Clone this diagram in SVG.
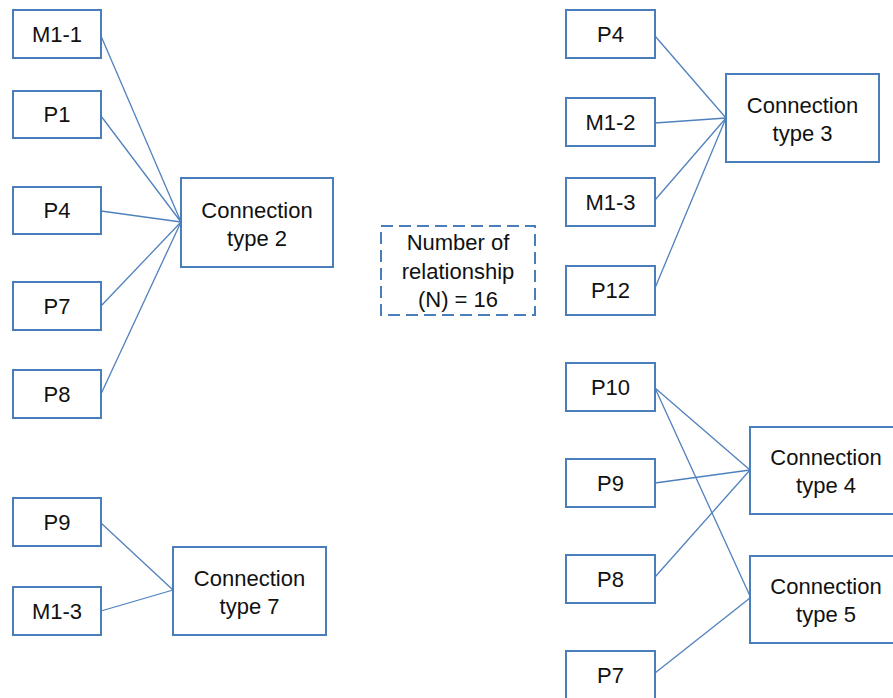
<svg xmlns="http://www.w3.org/2000/svg" width="893" height="698" viewBox="0 0 893 698">
  <style>
    .box { fill: #ffffff; stroke: #4a7ebb; stroke-width: 2; }
    .dash { fill: #ffffff; stroke: #4a7ebb; stroke-width: 2; stroke-dasharray: 12 6; }
    .link { stroke: #4f81bd; stroke-width: 1.3; fill: none; }
    text { font-family: "Liberation Sans", Arial, sans-serif; font-size: 22px; fill: #111111; text-anchor: middle; }
  </style>
  <rect width="893" height="698" fill="#ffffff"/>

  <!-- connectors -->
  <g id="connectors">
    <line class="link" x1="101" y1="36" x2="181" y2="222"/>
    <line class="link" x1="101" y1="116" x2="181" y2="222"/>
    <line class="link" x1="101" y1="211" x2="181" y2="222"/>
    <line class="link" x1="101" y1="306" x2="181" y2="222"/>
    <line class="link" x1="101" y1="394" x2="181" y2="222"/>

    <line class="link" x1="101" y1="523" x2="173" y2="590"/>
    <line class="link" x1="101" y1="611" x2="173" y2="590"/>

    <line class="link" x1="655" y1="36" x2="726" y2="118"/>
    <line class="link" x1="655" y1="123" x2="726" y2="118"/>
    <line class="link" x1="655" y1="200" x2="726" y2="118"/>
    <line class="link" x1="655" y1="288" x2="726" y2="118"/>

    <line class="link" x1="655" y1="388" x2="750" y2="470"/>
    <line class="link" x1="655" y1="483" x2="750" y2="470"/>
    <line class="link" x1="655" y1="577" x2="750" y2="470"/>
    <line class="link" x1="655" y1="388" x2="750" y2="596"/>
    <line class="link" x1="655" y1="673" x2="750" y2="598"/>
  </g>

  <!-- left column -->
  <g id="l-m1-1"><rect class="box" x="13" y="10" width="88" height="48"/><text x="57" y="42">M1-1</text></g>
  <g id="l-p1"><rect class="box" x="13" y="91" width="88" height="47"/><text x="57" y="122">P1</text></g>
  <g id="l-p4"><rect class="box" x="13" y="187" width="88" height="47"/><text x="57" y="218">P4</text></g>
  <g id="l-p7"><rect class="box" x="13" y="282" width="88" height="48"/><text x="57" y="314">P7</text></g>
  <g id="l-p8"><rect class="box" x="13" y="370" width="88" height="48"/><text x="57" y="402">P8</text></g>
  <g id="l-p9"><rect class="box" x="13" y="498" width="88" height="48"/><text x="57" y="530">P9</text></g>
  <g id="l-m1-3"><rect class="box" x="13" y="587" width="88" height="48"/><text x="57" y="619">M1-3</text></g>

  <g id="ct2"><rect class="box" x="181" y="178" width="152" height="89"/><text x="257" y="218">Connection</text><text x="257" y="246">type 2</text></g>
  <g id="ct7"><rect class="box" x="173" y="547" width="153" height="88"/><text x="249.5" y="586">Connection</text><text x="249.5" y="614">type 7</text></g>

  <!-- centre note -->
  <g id="count"><rect class="dash" x="381" y="226" width="154" height="89"/>
    <text x="458" y="250">Number of</text><text x="458" y="279">relationship</text><text x="458" y="307">(N) = 16</text></g>

  <!-- right column -->
  <g id="r-p4"><rect class="box" x="566" y="10" width="89" height="48"/><text x="610.5" y="42">P4</text></g>
  <g id="r-m1-2"><rect class="box" x="566" y="98" width="89" height="48"/><text x="610.5" y="130">M1-2</text></g>
  <g id="r-m1-3"><rect class="box" x="566" y="178" width="89" height="48"/><text x="610.5" y="210">M1-3</text></g>
  <g id="r-p12"><rect class="box" x="566" y="266" width="89" height="49"/><text x="610.5" y="298">P12</text></g>

  <g id="ct3"><rect class="box" x="726" y="74" width="153" height="88"/><text x="802.5" y="113">Connection</text><text x="802.5" y="141">type 3</text></g>

  <g id="r-p10"><rect class="box" x="566" y="363" width="89" height="48"/><text x="610.5" y="395">P10</text></g>
  <g id="r-p9"><rect class="box" x="566" y="459" width="89" height="48"/><text x="610.5" y="491">P9</text></g>
  <g id="r-p8"><rect class="box" x="566" y="555" width="89" height="48"/><text x="610.5" y="587">P8</text></g>
  <g id="r-p7"><rect class="box" x="566" y="651" width="89" height="48"/><text x="610.5" y="683">P7</text></g>

  <g id="ct4"><rect class="box" x="750" y="427" width="152" height="87"/><text x="826" y="465">Connection</text><text x="826" y="493">type 4</text></g>
  <g id="ct5"><rect class="box" x="750" y="556" width="152" height="87"/><text x="826" y="594">Connection</text><text x="826" y="622">type 5</text></g>
</svg>
